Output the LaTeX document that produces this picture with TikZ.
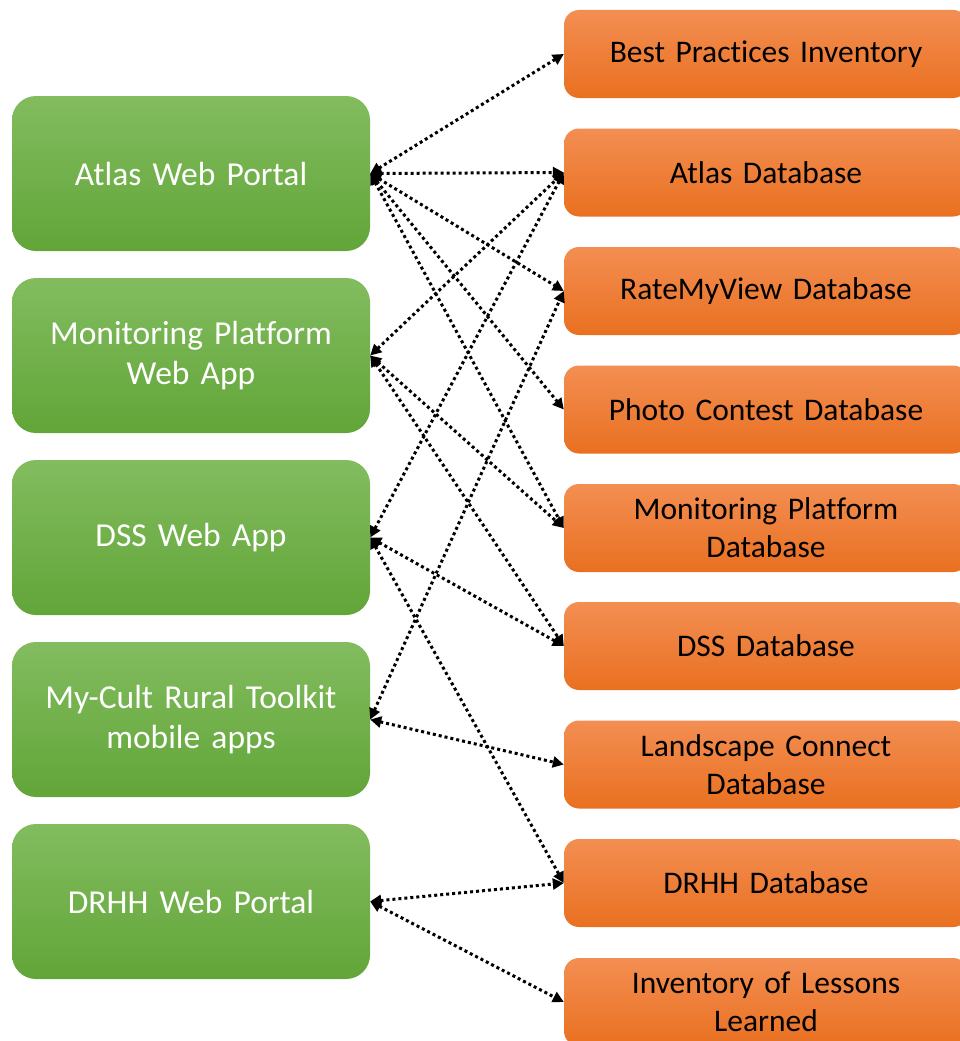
\documentclass[tikz,border=0pt]{standalone}
\usepackage{fontspec}
\setmainfont{Carlito}[Ligatures=NoCommon]
\usetikzlibrary{arrows.meta}
\definecolor{gtop}{RGB}{130,188,95}
\definecolor{gbot}{RGB}{98,165,56}
\definecolor{otop}{RGB}{243,142,82}
\definecolor{obot}{RGB}{233,112,32}
\begin{document}
\begin{tikzpicture}[x=1pt,y=-1pt,
  greenbox/.style={rounded corners=24pt, top color=gtop, bottom color=gbot, draw=none,
    minimum width=358pt, minimum height=155pt, inner sep=0pt, text width=345pt,
    align=center, text=white, font=\fontsize{33.5}{40}\selectfont},
  orangebox/.style={rounded corners=15pt, top color=otop, bottom color=obot, draw=none,
    minimum width=404pt, minimum height=88pt, inner sep=0pt, text width=390pt,
    align=center, text=black, font=\fontsize{31.5}{38}\selectfont},
  link/.style={line width=3pt, dash pattern=on 3pt off 3pt,
    {Triangle[length=11pt,width=11pt]}-{Triangle[length=11pt,width=11pt]}}
]
\useasboundingbox (0,0) rectangle (960,1041);
\fill[white] (0,0) rectangle (960,1041);
\begin{scope}
\clip (0,0) rectangle (960,1041);
% left column
\node[greenbox] (g1) at (191,173.5) {Atlas Web Portal};
\node[greenbox] (g2) at (191,355.5) {Monitoring Platform\\Web App};
\node[greenbox] (g3) at (191,537.5) {DSS Web App};
\node[greenbox] (g4) at (191,719.5) {My-Cult Rural Toolkit\\mobile apps};
\node[greenbox] (g5) at (191,901.5) {DRHH Web Portal};
% right column
\node[orangebox] (o1) at (766,54) {Best Practices Inventory};
\node[orangebox] (o2) at (766,172.5) {Atlas Database};
\node[orangebox] (o3) at (766,291) {RateMyView Database};
\node[orangebox] (o4) at (766,409.5) {Photo Contest Database};
\node[orangebox] (o5) at (766,528) {Monitoring Platform\\Database};
\node[orangebox] (o6) at (766,646) {DSS Database};
\node[orangebox] (o7) at (766,764.5) {Landscape Connect\\Database};
\node[orangebox] (o8) at (766,883) {DRHH Database};
\node[orangebox] (o9) at (766,1002) {Inventory of Lessons\\Learned};
\end{scope}
% connectors
\draw[link] (g1.east) -- (o1.west);
\draw[link] (g1.east) -- (o2.west);
\draw[link] (g1.east) -- (o3.west);
\draw[link] (g1.east) -- (o4.west);
\draw[link] (g1.east) -- (o5.west);
\draw[link] (g2.east) -- (o2.west);
\draw[link] (g2.east) -- (o5.west);
\draw[link] (g2.east) -- (o6.west);
\draw[link] (g3.east) -- (o2.west);
\draw[link] (g3.east) -- (o6.west);
\draw[link] (g3.east) -- (o8.west);
\draw[link] (g4.east) -- (o3.west);
\draw[link] (g4.east) -- (o7.west);
\draw[link] (g5.east) -- (o8.west);
\draw[link] (g5.east) -- (o9.west);
\end{tikzpicture}
\end{document}
